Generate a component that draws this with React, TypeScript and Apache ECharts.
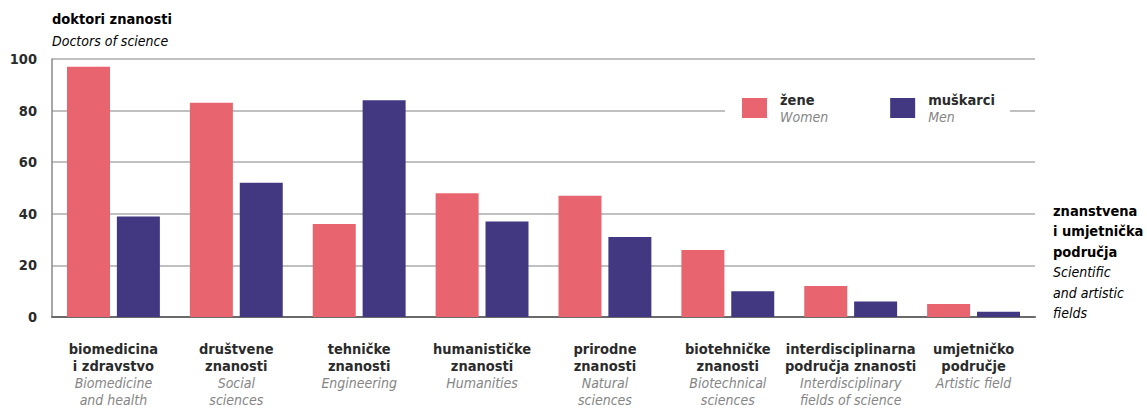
import React, { useEffect, useRef } from "react";
import * as echarts from "echarts";

const categoriesHr = [
  "biomedicina\ni zdravstvo",
  "društvene\nznanosti",
  "tehničke\nznanosti",
  "humanističke\nznanosti",
  "prirodne\nznanosti",
  "biotehničke\nznanosti",
  "interdisciplinarna\npodručja znanosti",
  "umjetničko\npodručje",
];
const categoriesEn = [
  "Biomedicine\nand health",
  "Social\nsciences",
  "Engineering",
  "Humanities",
  "Natural\nsciences",
  "Biotechnical\nsciences",
  "Interdisciplinary\nfields of science",
  "Artistic field",
];
const women = [97, 83, 36, 48, 47, 26, 12, 5];
const men = [39, 52, 84, 37, 31, 10, 6, 2];
const seriesNames = ["žene", "muškarci"];
const seriesNamesEn = ["Women", "Men"];
const yTicks = { min: 0, max: 100, interval: 20 };

const FONT = '"DejaVu Sans Condensed", "Liberation Sans Narrow", "Arial Narrow", sans-serif';
const PINK = "#E8646F";
const NAVY = "#413881";
const DARK = "#2b2b2b";
const GREY = "#858585";
const BOLD = { fontFamily: FONT, fontSize: 14.5, fontWeight: "bold", color: DARK };
const ITAL = { fontFamily: FONT, fontSize: 14, fontStyle: "italic", color: GREY };

export default function App() {
  const ref = useRef<HTMLDivElement>(null);
  useEffect(() => {
    if (!ref.current) return;
    const chart = echarts.init(ref.current, null, { renderer: "svg" });
    const cats = categoriesHr.map((_, i) => String(i));
    const option: any = {
      animation: false,
      backgroundColor: "#fff",
      textStyle: { fontFamily: FONT },
      grid: { left: 52, right: 112, top: 59, bottom: 98, containLabel: false },
      legend: {
        left: 725,
        top: 88,
        padding: [4, 15, 4, 17],
        backgroundColor: "#fff",
        itemWidth: 25,
        itemHeight: 20,
        itemGap: 62,
        icon: "rect",
        data: seriesNames,
        formatter: (name: string) => {
          const i = seriesNames.indexOf(name);
          return `{a|${name}}\n{b|${seriesNamesEn[i]}}`;
        },
        textStyle: {
          padding: [0, 0, 0, 8],
          rich: {
            a: { ...BOLD, lineHeight: 17 },
            b: { ...ITAL, lineHeight: 17 },
          },
        },
      },
      xAxis: {
        type: "category",
        data: cats,
        axisTick: { show: false },
        axisLine: { show: true, lineStyle: { color: "#6a6a6a", width: 2 } },
        axisLabel: {
          interval: 0,
          margin: 23,
          formatter: (v: string) => {
            const i = Number(v);
            const hr = categoriesHr[i].split("\n").map((l) => `{a|${l}}`);
            const en = categoriesEn[i].split("\n").map((l) => `{b|${l}}`);
            return hr.concat(en).join("\n");
          },
          rich: {
            a: { ...BOLD, lineHeight: 17, align: "center" },
            b: { ...ITAL, lineHeight: 17, align: "center" },
          },
        },
      },
      yAxis: {
        type: "value",
        min: yTicks.min,
        max: yTicks.max,
        interval: yTicks.interval,
        axisLine: { show: true, lineStyle: { color: "#8a8a8a", width: 1.5 } },
        axisTick: { show: false },
        splitLine: { lineStyle: { color: "#ababab", width: 1.5 } },
        axisLabel: {
          margin: 15,
          ...BOLD,
        },
      },
      series: [
        {
          name: seriesNames[0],
          type: "bar",
          data: women,
          barWidth: 43,
          barGap: "16%",
          itemStyle: { color: PINK },
        },
        {
          name: seriesNames[1],
          type: "bar",
          data: men,
          barWidth: 43,
          barGap: "16%",
          itemStyle: { color: NAVY },
        },
      ],
      graphic: [
        {
          type: "text",
          left: 52,
          top: 11,
          style: {
            text: "{a|doktori znanosti}\n{b|Doctors of science}",
            rich: {
              a: { ...BOLD, lineHeight: 22 },
              b: { ...ITAL, lineHeight: 22 },
            },
          },
        },
        {
          type: "text",
          left: 1053,
          top: 203,
          style: {
            text:
              "{a|znanstvena}\n{a|i umjetnička}\n{a|područja}\n{b|Scientific}\n{b|and artistic}\n{b|fields}",
            rich: {
              a: { ...BOLD, lineHeight: 20.5 },
              b: { ...ITAL, lineHeight: 20.5 },
            },
          },
        },
      ],
    };
    chart.setOption(option);
    return () => chart.dispose();
  }, []);
  return (
    <div
      ref={ref}
      style={{ position: "absolute", left: 0, top: 0, width: 1147, height: 415 }}
    />
  );
}
